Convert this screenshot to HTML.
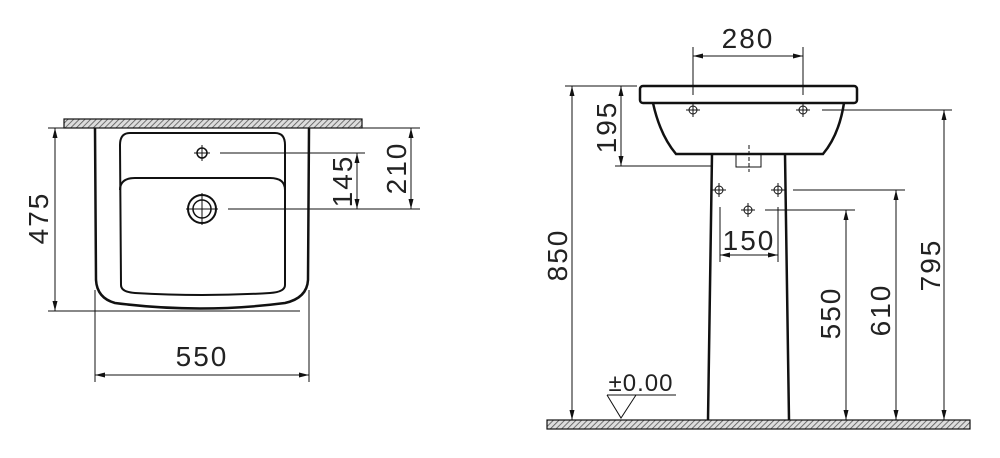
<!DOCTYPE html>
<html><head><meta charset="utf-8"><style>
html,body{margin:0;padding:0;background:#fff;}
svg{display:block}
text{font-family:"Liberation Sans",sans-serif;font-size:28px;fill:#222;letter-spacing:2px}
</style></head><body>
<svg width="1000" height="458" viewBox="0 0 1000 458" xmlns="http://www.w3.org/2000/svg">
<defs>
<pattern id="h" width="4" height="4" patternUnits="userSpaceOnUse" patternTransform="rotate(45)">
<rect width="4" height="4" fill="#ddd"/><line x1="0" y1="0" x2="0" y2="4" stroke="#555" stroke-width="1.6"/>
</pattern>
<marker id="a" viewBox="0 0 10 10" refX="10" refY="5" markerWidth="10" markerHeight="10" markerUnits="userSpaceOnUse" orient="auto-start-reverse">
<path d="M0,2.5 L10,5 L0,7.5 Z" fill="#111"/></marker>
</defs>
<g stroke="#111" fill="none">
<rect x="64" y="119" width="298" height="9" fill="url(#h)" stroke-width="1.2"/>
<path d="M95,128 L96,280 Q97,298 115,303 Q200,314 285,303 Q307,298 308,280 L309,128" stroke-width="2.5"/>
<path d="M130,133 L275,133 Q285,133 285,145 L285,285 Q285,292 270,293 Q202,297 135,293 Q121,292 121,285 L120,145 Q120,133 130,133 Z" stroke-width="2"/>
<path d="M120,190 Q120,178 135,178 L270,178 Q285,178 285,190" stroke-width="2"/>
<circle cx="202" cy="153" r="5" stroke-width="1.5"/>
<path d="M194,153 H210 M202,145 V161" stroke-width="1"/>
<circle cx="202" cy="209" r="14" stroke-width="2"/>
<circle cx="202" cy="209" r="9" stroke-width="1.5"/>
<path d="M186,209 H218 M202,193 V225" stroke-width="1"/>
<g stroke-width="1">
<path d="M220,153 H365 M228,209 H420 M300,128 H420 M48,128 H95 M48,311 H300"/>
<path d="M95,290 V382 M309,290 V382"/>
<path d="M55,128 V311" marker-start="url(#a)" marker-end="url(#a)"/>
<path d="M357,153 V209" marker-start="url(#a)" marker-end="url(#a)"/>
<path d="M411,128 V209" marker-start="url(#a)" marker-end="url(#a)"/>
<path d="M95,375 H309" marker-start="url(#a)" marker-end="url(#a)"/>
</g>
<rect x="547" y="420" width="423" height="9" fill="url(#h)" stroke-width="1.2"/>
<rect x="640" y="86" width="217" height="17" rx="3" stroke-width="2.5"/>
<path d="M653,103 Q660,135 676,154 L823,154 Q839,135 844,103" stroke-width="2.5"/>
<path d="M712,154 L708,420 M785,154 L789,420" stroke-width="2.5"/>
<path d="M736,154 V167 H761 V154" stroke-width="1"/>
<path d="M749,145 V172" stroke-width="1" stroke-dasharray="4,2"/>
<g stroke-width="1">
<circle cx="693" cy="110" r="4"/><path d="M686,110 H700 M693,103 V117"/>
<circle cx="803" cy="110" r="4"/><path d="M796,110 H810 M803,103 V117"/>
<circle cx="719" cy="190" r="4"/><path d="M712,190 H726 M719,183 V197"/>
<circle cx="778" cy="190" r="4"/><path d="M771,190 H785 M778,183 V197"/>
<circle cx="748" cy="210" r="4"/><path d="M741,210 H755 M748,203 V217"/>
<path d="M693,47 V95 M803,47 V95"/>
<path d="M693,56 H803" marker-start="url(#a)" marker-end="url(#a)"/>
<path d="M565,86 H637 M615,166 H712 M822,110 H952 M793,190 H905 M765,210 H855"/>
<path d="M572,86 V420" marker-start="url(#a)" marker-end="url(#a)"/>
<path d="M621,86 V166" marker-start="url(#a)" marker-end="url(#a)"/>
<path d="M944,110 V420" marker-start="url(#a)" marker-end="url(#a)"/>
<path d="M896,190 V420" marker-start="url(#a)" marker-end="url(#a)"/>
<path d="M846,210 V420" marker-start="url(#a)" marker-end="url(#a)"/>
<path d="M720,207 V262 M778,207 V262"/>
<path d="M720,255 H778" marker-start="url(#a)" marker-end="url(#a)"/>
<path d="M607,395 H676 M607,395 L621,418 L636,395"/>
</g>
</g>
<g>
<text x="202" y="366" text-anchor="middle">550</text>
<text transform="translate(48,218) rotate(-90)" text-anchor="middle">475</text>
<text transform="translate(352,181) rotate(-90)" text-anchor="middle">145</text>
<text transform="translate(406,168) rotate(-90)" text-anchor="middle">210</text>
<text x="748" y="48" text-anchor="middle">280</text>
<text transform="translate(567,255) rotate(-90)" text-anchor="middle">850</text>
<text transform="translate(616,127) rotate(-90)" text-anchor="middle">195</text>
<text transform="translate(940,265) rotate(-90)" text-anchor="middle">795</text>
<text transform="translate(890,310) rotate(-90)" text-anchor="middle">610</text>
<text transform="translate(840,313) rotate(-90)" text-anchor="middle">550</text>
<text x="749" y="250" text-anchor="middle">150</text>
<text x="641" y="391" text-anchor="middle" style="font-size:24px;letter-spacing:1px">±0.00</text>
</g>
</svg>
</body></html>
